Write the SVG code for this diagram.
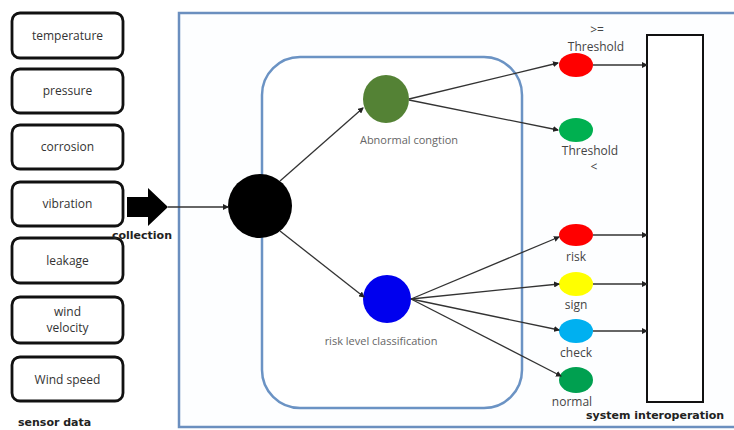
<svg xmlns="http://www.w3.org/2000/svg" width="734" height="430" viewBox="0 0 734 430">
<style>
.box{fill:#fff;stroke:#111;stroke-width:2.8}
.bt{font-family:"Open Sans","DejaVu Sans",sans-serif;font-size:12px;fill:#333;text-anchor:middle}
.lbl{font-family:"Open Sans","DejaVu Sans",sans-serif;font-size:11px;fill:#666;text-anchor:middle}
.th{font-family:"Open Sans","DejaVu Sans",sans-serif;font-size:12px;fill:#444;text-anchor:middle}
.bold{font-family:"DejaVu Sans",sans-serif;font-size:11px;font-weight:bold;fill:#222}
.ln{stroke:#333;stroke-width:1.3;fill:none}
.arr{marker-end:url(#ah)}
</style>
<defs>
<marker id="ah" markerWidth="6" markerHeight="6" refX="5" refY="3" orient="auto" markerUnits="userSpaceOnUse">
<path d="M0,0 L6,3 L0,6 Z" fill="#222"/>
</marker>
</defs>
<rect x="0" y="0" width="734" height="430" fill="#fff"/>
<g id="frame">
<rect x="179" y="13" width="560" height="414" fill="#fdfeff" stroke="#6b8fbf" stroke-width="2.5"/>
</g>
<g id="classifier">
<rect x="262" y="57" width="260" height="351" rx="38" ry="38" fill="#fff" stroke="#6b93c4" stroke-width="2.5"/>
</g>
<g id="temperature"><rect class="box" x="12" y="13" width="111" height="45" rx="8"/><text class="bt" x="67.5" y="40">temperature</text></g>
<g id="pressure"><rect class="box" x="12" y="69" width="111" height="44" rx="8"/><text class="bt" x="67.5" y="95">pressure</text></g>
<g id="corrosion"><rect class="box" x="12" y="125" width="111" height="44" rx="8"/><text class="bt" x="67.5" y="151">corrosion</text></g>
<g id="vibration"><rect class="box" x="12" y="182" width="111" height="44" rx="8"/><text class="bt" x="67.5" y="208">vibration</text></g>
<g id="leakage"><rect class="box" x="12" y="238" width="111" height="45" rx="8"/><text class="bt" x="67.5" y="265">leakage</text></g>
<g id="wind-velocity"><rect class="box" x="12" y="297" width="111" height="46" rx="8"/><text class="bt" x="67.5" y="316">wind</text><text class="bt" x="67.5" y="332">velocity</text></g>
<g id="wind-speed"><rect class="box" x="12" y="357" width="111" height="44" rx="8"/><text class="bt" x="67.5" y="384">Wind speed</text></g>
<text class="bold" x="18" y="426" font-size="12">sensor data</text>
<g id="collection">
<path d="M127,197 L148,197 L148,188 L168,207 L148,226 L148,217 L127,217 Z" fill="#000"/>
<text class="bold" x="142" y="239" text-anchor="middle" font-size="10">collection</text>
</g>
<g id="hub"><circle cx="260" cy="206" r="32" fill="#000"/></g>
<g id="abnormal"><ellipse cx="386" cy="99" rx="23" ry="24" fill="#548235"/><text class="lbl" x="409" y="144">Abnormal congtion</text></g>
<g id="risk-level"><ellipse cx="387" cy="299" rx="24" ry="24" fill="#0000ee"/><text class="lbl" x="381" y="345">risk level classification</text></g>
<g id="threshold-high"><ellipse cx="576" cy="65" rx="17" ry="12" fill="#ff0000"/><text class="th" x="597" y="34" font-size="10">&gt;=</text><text class="th" x="596" y="51">Threshold</text></g>
<g id="threshold-low"><ellipse cx="576" cy="130" rx="17" ry="12" fill="#00b050"/><text class="th" x="590" y="155">Threshold</text><text class="th" x="594" y="171" font-size="10">&lt;</text></g>
<g id="risk"><ellipse cx="576" cy="235" rx="17" ry="11" fill="#ff0000"/><text class="th" x="576" y="261">risk</text></g>
<g id="sign"><ellipse cx="576" cy="284" rx="17" ry="12" fill="#ffff00"/><text class="th" x="576" y="309">sign</text></g>
<g id="check"><ellipse cx="576" cy="331" rx="17" ry="12" fill="#00b0f0"/><text class="th" x="576" y="357">check</text></g>
<g id="normal"><ellipse cx="576" cy="380" rx="17" ry="13" fill="#00a050"/><text class="th" x="572" y="406">normal</text></g>
<g id="system"><rect x="647" y="35" width="56" height="367" fill="#fff" stroke="#111" stroke-width="2"/>
<text class="bold" x="586" y="419" font-size="12.5">system interoperation</text></g>
<g id="connectors">
<line class="ln arr" x1="168" y1="207" x2="228" y2="207"/>
<line class="ln arr" x1="280" y1="181" x2="363" y2="108"/>
<line class="ln arr" x1="280" y1="231" x2="364" y2="297"/>
<line class="ln arr" x1="409" y1="99" x2="558" y2="63"/>
<line class="ln arr" x1="409" y1="100" x2="558" y2="130"/>
<line class="ln arr" x1="411" y1="299" x2="559" y2="237"/>
<line class="ln arr" x1="411" y1="299" x2="559" y2="284"/>
<line class="ln arr" x1="411" y1="299" x2="559" y2="330"/>
<line class="ln arr" x1="411" y1="299" x2="561" y2="376"/>
<line class="ln arr" x1="593" y1="65" x2="647" y2="65"/>
<line class="ln arr" x1="593" y1="235" x2="647" y2="235"/>
<line class="ln arr" x1="593" y1="284" x2="647" y2="284"/>
<line class="ln arr" x1="593" y1="331" x2="647" y2="331"/>
</g>
</svg>
